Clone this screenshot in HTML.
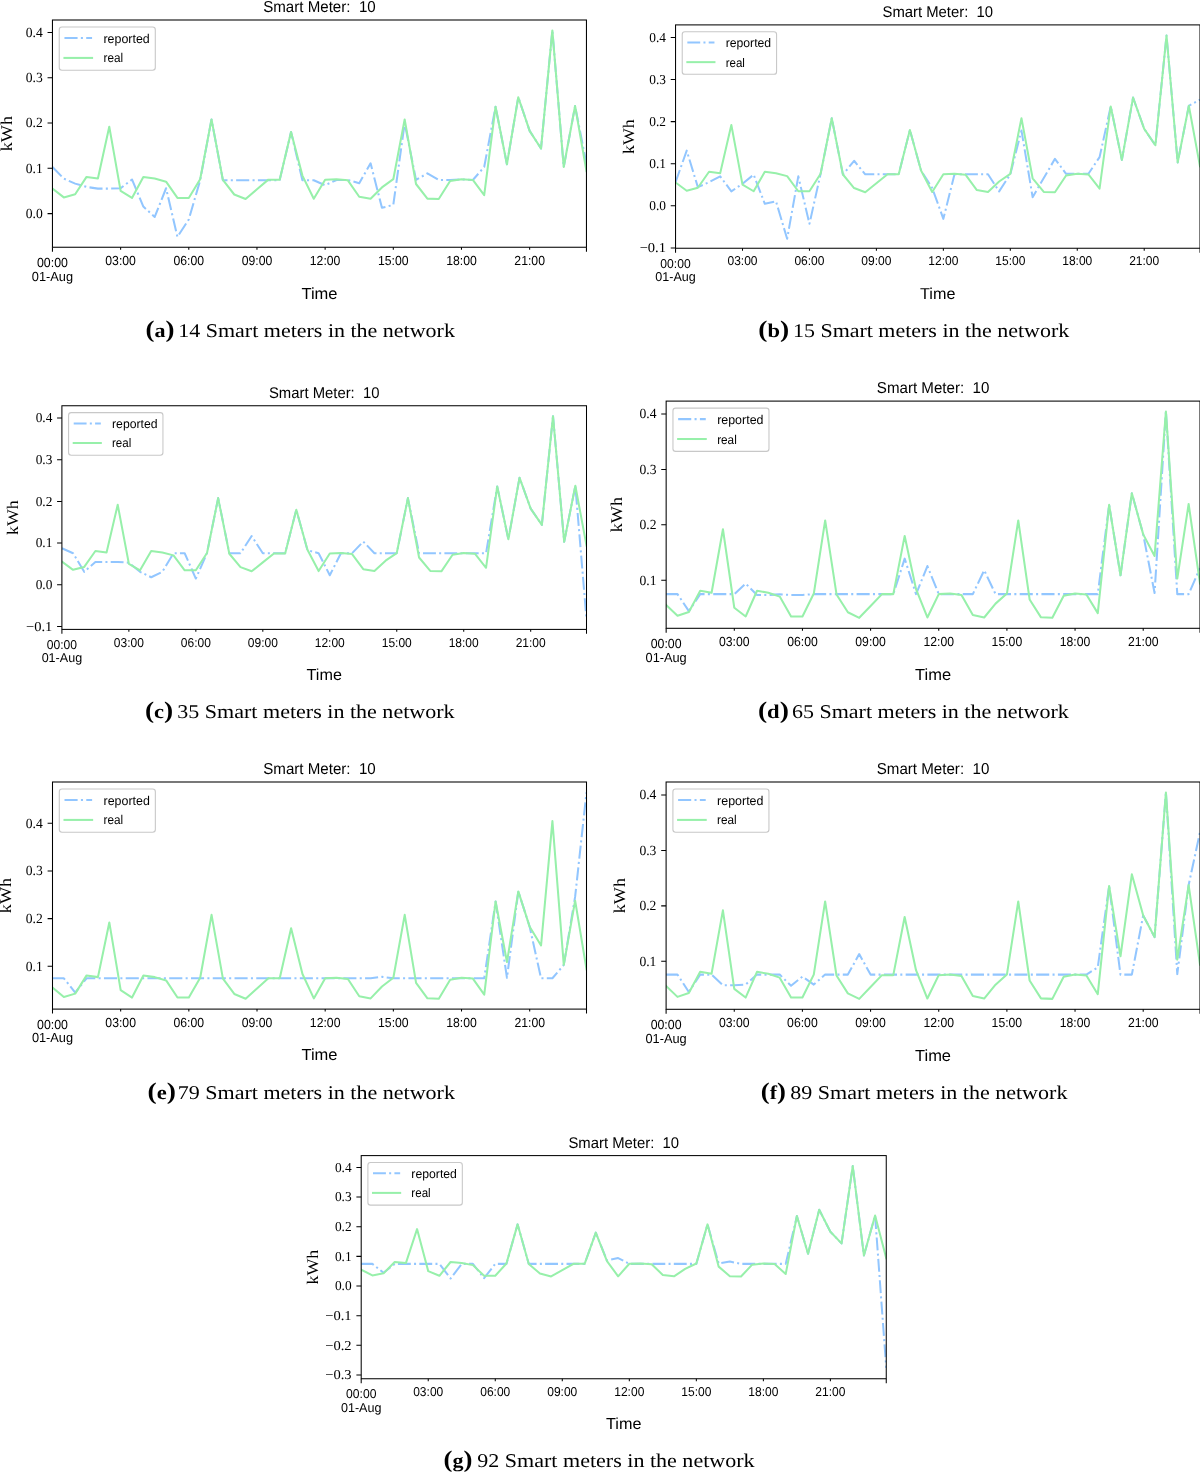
<!DOCTYPE html>
<html><head><meta charset="utf-8"><title>Smart meters figure</title>
<style>html,body{margin:0;padding:0;background:#fff;}body{width:1200px;height:1474px;overflow:hidden;}svg{display:block;will-change:transform;}text{font-kerning:normal;text-rendering:geometricPrecision;}</style>
</head><body>
<svg width="1200" height="1474" viewBox="0 0 1200 1474">
<clipPath id="clipa"><rect x="52.45" y="20" width="534" height="227.25"/></clipPath>
<g clip-path="url(#clipa)">
<polyline points="52.45,166.97 63.81,178.61 75.17,183.63 86.54,186.94 97.9,188.62 109.26,188.62 120.62,188.25 131.98,179.47 143.34,206.59 154.71,216.96 166.07,188.25 177.43,236.93 188.79,219.45 200.15,180.28 211.51,119.43 222.88,180.28 234.24,180.28 245.6,180.28 256.96,180.28 268.32,180.28 279.68,180.1 291.05,132.11 302.41,180.28 313.77,180.28 325.13,185.26 336.49,179.97 347.85,179.97 359.22,183.27 370.58,163.35 381.94,207.77 393.3,204.96 404.66,123.05 416.02,179.97 427.39,173.31 438.75,179.97 450.11,179.97 461.47,179.42 472.83,179.97 484.19,166.97 495.56,106.75 506.92,164.26 518.28,97.24 529.64,130.84 541,148.54 552.36,30.46 563.73,166.97 575.09,106.03 586.45,163.8" fill="none" stroke="#92c6ff" stroke-width="2.05" stroke-dasharray="13.11,3.3,2.05,3.3" stroke-linejoin="round"/>
<polyline points="52.45,188.52 63.81,197.4 75.17,194.23 86.54,176.93 97.9,178.56 109.26,126.67 120.62,190.83 131.98,197.94 143.34,176.93 154.71,178.56 166.07,181.69 177.43,197.94 188.79,197.94 200.15,179.2 211.51,119.43 222.88,179.92 234.24,194.5 245.6,199.03 256.96,189.34 268.32,179.65 279.68,179.65 291.05,132.11 302.41,175.58 313.77,198.76 325.13,179.65 336.49,179.2 347.85,180.33 359.22,196.72 370.58,198.76 381.94,187.44 393.3,179.2 404.66,119.43 416.02,184 427.39,198.62 438.75,199.03 450.11,181.01 461.47,179.2 472.83,179.92 484.19,195.18 495.56,106.75 506.92,164.26 518.28,97.24 529.64,130.84 541,148.54 552.36,30.46 563.73,166.97 575.09,106.03 586.45,171.05" fill="none" stroke="#97f0aa" stroke-width="2.05" stroke-linejoin="round" stroke-linecap="square"/>
</g>
<rect x="52.45" y="20" width="534" height="227.25" fill="none" stroke="#000" stroke-width="1.05"/>
<path d="M47.55 213.61H52.45M47.55 168.33H52.45M47.55 123.05H52.45M47.55 77.77H52.45M47.55 32.5H52.45M120.62 247.25V249.75M188.79 247.25V249.75M256.96 247.25V249.75M325.13 247.25V249.75M393.3 247.25V249.75M461.47 247.25V249.75M529.64 247.25V249.75M52.45 247.25V251.75M586.45 247.25V251.75" stroke="#000" stroke-width="1.05" fill="none"/>
<g font-family='"Liberation Serif", serif' font-size="13.91" fill="#000"><text x="42.74" y="218.01" text-anchor="end" textLength="17.01" lengthAdjust="spacingAndGlyphs">0.0</text><text x="42.74" y="172.73" text-anchor="end" textLength="17.01" lengthAdjust="spacingAndGlyphs">0.1</text><text x="42.74" y="127.46" text-anchor="end" textLength="17.01" lengthAdjust="spacingAndGlyphs">0.2</text><text x="42.74" y="82.18" text-anchor="end" textLength="17.01" lengthAdjust="spacingAndGlyphs">0.3</text><text x="42.74" y="36.9" text-anchor="end" textLength="17.01" lengthAdjust="spacingAndGlyphs">0.4</text></g>
<g font-family='"Liberation Sans", sans-serif' font-size="13.11" fill="#000" text-anchor="middle"><text x="120.62" y="264.66" textLength="30.62" lengthAdjust="spacingAndGlyphs">03:00</text><text x="188.79" y="264.66" textLength="30.62" lengthAdjust="spacingAndGlyphs">06:00</text><text x="256.96" y="264.66" textLength="30.62" lengthAdjust="spacingAndGlyphs">09:00</text><text x="325.13" y="264.66" textLength="30.62" lengthAdjust="spacingAndGlyphs">12:00</text><text x="393.3" y="264.66" textLength="30.62" lengthAdjust="spacingAndGlyphs">15:00</text><text x="461.47" y="264.66" textLength="30.62" lengthAdjust="spacingAndGlyphs">18:00</text><text x="529.64" y="264.66" textLength="30.62" lengthAdjust="spacingAndGlyphs">21:00</text><text x="52.45" y="267.01" textLength="30.92" lengthAdjust="spacingAndGlyphs">00:00</text><text x="52.45" y="280.57" textLength="41.22" lengthAdjust="spacingAndGlyphs">01-Aug</text></g>
<text x="319.45" y="12.1" font-family='"Liberation Sans", sans-serif' font-size="15.81" text-anchor="middle" textLength="112.56" lengthAdjust="spacingAndGlyphs" style="white-space:pre">Smart Meter:  10</text>
<text x="319.45" y="298.63" font-family='"Liberation Sans", sans-serif' font-size="16.11" text-anchor="middle" textLength="36.02" lengthAdjust="spacingAndGlyphs">Time</text>
<text transform="translate(11.5 133.62) rotate(-90)" font-family='"Liberation Serif", serif' font-size="16.51" text-anchor="middle" textLength="35.32" lengthAdjust="spacingAndGlyphs">kWh</text>
<rect x="59.25" y="27" width="96.05" height="43.32" rx="2.7" fill="#fff" fill-opacity="0.8" stroke="#c8c8c8" stroke-width="1.1"/>
<path d="M64.46 38.01H92.07" stroke="#92c6ff" stroke-width="2.05" stroke-dasharray="13.11,3.3,2.05,3.3"/>
<path d="M64.46 57.92H92.07" stroke="#97f0aa" stroke-width="2.05" stroke-linecap="square"/>
<g font-family='"Liberation Sans", sans-serif' font-size="12.71" fill="#000">
<text x="103.48" y="42.71" textLength="46.33" lengthAdjust="spacingAndGlyphs">reported</text>
<text x="103.48" y="62.42" textLength="19.61" lengthAdjust="spacingAndGlyphs">real</text>
</g>
<text x="145.5" y="336.7" font-family='"Liberation Serif", serif' font-size="19.5" font-weight="bold" textLength="29" lengthAdjust="spacingAndGlyphs"><tspan font-size="23.8">(</tspan>a<tspan font-size="23.8">)</tspan></text>
<text x="178.3" y="336.7" font-family='"Liberation Serif", serif' font-size="19.5" textLength="276.6" lengthAdjust="spacingAndGlyphs">14 Smart meters in the network</text>
<clipPath id="clipb"><rect x="675.55" y="24.9" width="524.45" height="223.35"/></clipPath>
<g clip-path="url(#clipb)">
<polyline points="675.55,182.15 686.71,150.66 697.87,187.16 709.03,182.15 720.18,176.34 731.34,191.33 742.5,183.79 753.66,174.66 764.82,203.83 775.98,201.31 787.14,238.82 798.29,176.34 809.45,223.83 820.61,173.81 831.77,118.24 842.93,174.66 854.09,160.76 865.24,174.32 876.4,174.32 887.56,174.32 898.72,174.32 909.88,130.03 921.04,170.45 932.2,187.92 943.35,218.86 954.51,174.32 965.67,174.32 976.83,174.32 987.99,174.32 999.15,191.33 1010.31,174.24 1021.46,130.45 1032.62,197.14 1043.78,178.02 1054.94,158.83 1066.1,173.81 1077.26,173.81 1088.41,173.81 1099.57,157.14 1110.73,106.45 1121.89,159.92 1133.05,97.61 1144.21,128.85 1155.37,145.31 1166.52,35.51 1177.68,162.45 1188.84,105.78 1200,99.71" fill="none" stroke="#92c6ff" stroke-width="2.01" stroke-dasharray="12.87,3.24,2.01,3.24" stroke-linejoin="round"/>
<polyline points="675.55,182.49 686.71,190.74 697.87,187.79 709.03,171.71 720.18,173.22 731.34,124.98 742.5,184.63 753.66,191.24 764.82,171.71 775.98,173.22 787.14,176.13 798.29,191.24 809.45,191.24 820.61,173.81 831.77,118.24 842.93,174.49 854.09,188.04 865.24,192.25 876.4,183.24 887.56,174.24 898.72,174.24 909.88,130.03 921.04,170.45 932.2,192 943.35,174.24 954.51,173.81 965.67,174.87 976.83,190.11 987.99,192 999.15,181.48 1010.31,173.81 1021.46,118.24 1032.62,178.28 1043.78,191.88 1054.94,192.25 1066.1,175.5 1077.26,173.81 1088.41,174.49 1099.57,188.68 1110.73,106.45 1121.89,159.92 1133.05,97.61 1144.21,128.85 1155.37,145.31 1166.52,35.51 1177.68,162.45 1188.84,105.78 1200,166.24" fill="none" stroke="#97f0aa" stroke-width="2.01" stroke-linejoin="round" stroke-linecap="square"/>
</g>
<rect x="675.55" y="24.9" width="524.45" height="223.35" fill="none" stroke="#000" stroke-width="1.03"/>
<path d="M670.73 247.91H675.55M670.73 205.81H675.55M670.73 163.71H675.55M670.73 121.61H675.55M670.73 79.51H675.55M670.73 37.4H675.55M742.5 248.25V250.71M809.45 248.25V250.71M876.4 248.25V250.71M943.35 248.25V250.71M1010.31 248.25V250.71M1077.26 248.25V250.71M1144.21 248.25V250.71M675.55 248.25V252.67M1200 248.25V252.67" stroke="#000" stroke-width="1.03" fill="none"/>
<g font-family='"Liberation Serif", serif' font-size="13.66" fill="#000"><text x="666.02" y="252.24" text-anchor="end" textLength="26.34" lengthAdjust="spacingAndGlyphs">−0.1</text><text x="666.02" y="210.14" text-anchor="end" textLength="16.71" lengthAdjust="spacingAndGlyphs">0.0</text><text x="666.02" y="168.03" text-anchor="end" textLength="16.71" lengthAdjust="spacingAndGlyphs">0.1</text><text x="666.02" y="125.93" text-anchor="end" textLength="16.71" lengthAdjust="spacingAndGlyphs">0.2</text><text x="666.02" y="83.83" text-anchor="end" textLength="16.71" lengthAdjust="spacingAndGlyphs">0.3</text><text x="666.02" y="41.73" text-anchor="end" textLength="16.71" lengthAdjust="spacingAndGlyphs">0.4</text></g>
<g font-family='"Liberation Sans", sans-serif' font-size="12.87" fill="#000" text-anchor="middle"><text x="742.5" y="265.35" textLength="30.07" lengthAdjust="spacingAndGlyphs">03:00</text><text x="809.45" y="265.35" textLength="30.07" lengthAdjust="spacingAndGlyphs">06:00</text><text x="876.4" y="265.35" textLength="30.07" lengthAdjust="spacingAndGlyphs">09:00</text><text x="943.35" y="265.35" textLength="30.07" lengthAdjust="spacingAndGlyphs">12:00</text><text x="1010.31" y="265.35" textLength="30.07" lengthAdjust="spacingAndGlyphs">15:00</text><text x="1077.26" y="265.35" textLength="30.07" lengthAdjust="spacingAndGlyphs">18:00</text><text x="1144.21" y="265.35" textLength="30.07" lengthAdjust="spacingAndGlyphs">21:00</text><text x="675.55" y="267.66" textLength="30.36" lengthAdjust="spacingAndGlyphs">00:00</text><text x="675.55" y="280.97" textLength="40.49" lengthAdjust="spacingAndGlyphs">01-Aug</text></g>
<text x="937.77" y="17.14" font-family='"Liberation Sans", sans-serif' font-size="15.53" text-anchor="middle" textLength="110.55" lengthAdjust="spacingAndGlyphs" style="white-space:pre">Smart Meter:  10</text>
<text x="937.77" y="298.71" font-family='"Liberation Sans", sans-serif' font-size="15.82" text-anchor="middle" textLength="35.38" lengthAdjust="spacingAndGlyphs">Time</text>
<text transform="translate(633.7 136.57) rotate(-90)" font-family='"Liberation Serif", serif' font-size="16.21" text-anchor="middle" textLength="34.69" lengthAdjust="spacingAndGlyphs">kWh</text>
<rect x="682.23" y="31.78" width="94.34" height="42.55" rx="2.65" fill="#fff" fill-opacity="0.8" stroke="#c8c8c8" stroke-width="1.08"/>
<path d="M687.34 42.59H714.46" stroke="#92c6ff" stroke-width="2.01" stroke-dasharray="12.87,3.24,2.01,3.24"/>
<path d="M687.34 62.14H714.46" stroke="#97f0aa" stroke-width="2.01" stroke-linecap="square"/>
<g font-family='"Liberation Sans", sans-serif' font-size="12.48" fill="#000">
<text x="725.67" y="47.21" textLength="45.5" lengthAdjust="spacingAndGlyphs">reported</text>
<text x="725.67" y="66.57" textLength="19.26" lengthAdjust="spacingAndGlyphs">real</text>
</g>
<text x="758.3" y="336.9" font-family='"Liberation Serif", serif' font-size="19.5" font-weight="bold" textLength="30.9" lengthAdjust="spacingAndGlyphs"><tspan font-size="23.8">(</tspan>b<tspan font-size="23.8">)</tspan></text>
<text x="793" y="336.9" font-family='"Liberation Serif", serif' font-size="19.5" textLength="276.2" lengthAdjust="spacingAndGlyphs">15 Smart meters in the network</text>
<clipPath id="clipc"><rect x="61.9" y="405.75" width="524.6" height="223.65"/></clipPath>
<g clip-path="url(#clipc)">
<polyline points="61.9,548.24 73.06,553.24 84.22,571.82 95.39,561.91 106.55,561.91 117.71,561.91 128.87,562.74 140.03,571.82 151.19,577.24 162.36,571.82 173.52,553.24 184.68,553.24 195.84,578.57 207,553.07 218.16,498.08 229.33,553.24 240.49,553.24 251.65,535.99 262.81,553.24 273.97,553.24 285.13,553.24 296.3,509.74 307.46,550.16 318.62,553.24 329.78,575.24 340.94,553.24 352.1,553.24 363.27,541.57 374.43,553.24 385.59,553.24 396.75,553.24 407.91,498.08 419.07,553.24 430.24,553.24 441.4,553.24 452.56,553.24 463.72,553.24 474.88,553.24 486.04,553.24 497.21,486.41 508.37,539.32 519.53,477.66 530.69,508.58 541.85,524.87 553.01,416.21 564.18,541.82 575.34,485.74 586.5,619.32" fill="none" stroke="#92c6ff" stroke-width="2.02" stroke-dasharray="12.88,3.24,2.02,3.24" stroke-linejoin="round"/>
<polyline points="61.9,561.66 73.06,569.82 84.22,566.9 95.39,550.99 106.55,552.49 117.71,504.74 128.87,563.78 140.03,570.32 151.19,550.99 162.36,552.49 173.52,555.36 184.68,570.32 195.84,570.32 207,553.07 218.16,498.08 229.33,553.74 240.49,567.15 251.65,571.32 262.81,562.4 273.97,553.49 285.13,553.49 296.3,509.74 307.46,549.74 318.62,571.07 329.78,553.49 340.94,553.07 352.1,554.11 363.27,569.2 374.43,571.07 385.59,560.66 396.75,553.07 407.91,498.08 419.07,557.49 430.24,570.95 441.4,571.32 452.56,554.74 463.72,553.07 474.88,553.74 486.04,567.78 497.21,486.41 508.37,539.32 519.53,477.66 530.69,508.58 541.85,524.87 553.01,416.21 564.18,541.82 575.34,485.74 586.5,545.57" fill="none" stroke="#97f0aa" stroke-width="2.02" stroke-linejoin="round" stroke-linecap="square"/>
</g>
<rect x="61.9" y="405.75" width="524.6" height="223.65" fill="none" stroke="#000" stroke-width="1.03"/>
<path d="M57.08 626.4H61.9M57.08 584.74H61.9M57.08 543.07H61.9M57.08 501.41H61.9M57.08 459.75H61.9M57.08 418.08H61.9M128.87 629.4V631.86M195.84 629.4V631.86M262.81 629.4V631.86M329.78 629.4V631.86M396.75 629.4V631.86M463.72 629.4V631.86M530.69 629.4V631.86M61.9 629.4V633.82M586.5 629.4V633.82" stroke="#000" stroke-width="1.03" fill="none"/>
<g font-family='"Liberation Serif", serif' font-size="13.66" fill="#000"><text x="52.37" y="630.73" text-anchor="end" textLength="26.34" lengthAdjust="spacingAndGlyphs">−0.1</text><text x="52.37" y="589.06" text-anchor="end" textLength="16.71" lengthAdjust="spacingAndGlyphs">0.0</text><text x="52.37" y="547.4" text-anchor="end" textLength="16.71" lengthAdjust="spacingAndGlyphs">0.1</text><text x="52.37" y="505.73" text-anchor="end" textLength="16.71" lengthAdjust="spacingAndGlyphs">0.2</text><text x="52.37" y="464.07" text-anchor="end" textLength="16.71" lengthAdjust="spacingAndGlyphs">0.3</text><text x="52.37" y="422.41" text-anchor="end" textLength="16.71" lengthAdjust="spacingAndGlyphs">0.4</text></g>
<g font-family='"Liberation Sans", sans-serif' font-size="12.88" fill="#000" text-anchor="middle"><text x="128.87" y="646.5" textLength="30.08" lengthAdjust="spacingAndGlyphs">03:00</text><text x="195.84" y="646.5" textLength="30.08" lengthAdjust="spacingAndGlyphs">06:00</text><text x="262.81" y="646.5" textLength="30.08" lengthAdjust="spacingAndGlyphs">09:00</text><text x="329.78" y="646.5" textLength="30.08" lengthAdjust="spacingAndGlyphs">12:00</text><text x="396.75" y="646.5" textLength="30.08" lengthAdjust="spacingAndGlyphs">15:00</text><text x="463.72" y="646.5" textLength="30.08" lengthAdjust="spacingAndGlyphs">18:00</text><text x="530.69" y="646.5" textLength="30.08" lengthAdjust="spacingAndGlyphs">21:00</text><text x="61.9" y="648.81" textLength="30.37" lengthAdjust="spacingAndGlyphs">00:00</text><text x="61.9" y="662.13" textLength="40.5" lengthAdjust="spacingAndGlyphs">01-Aug</text></g>
<text x="324.2" y="397.98" font-family='"Liberation Sans", sans-serif' font-size="15.53" text-anchor="middle" textLength="110.58" lengthAdjust="spacingAndGlyphs" style="white-space:pre">Smart Meter:  10</text>
<text x="324.2" y="679.87" font-family='"Liberation Sans", sans-serif' font-size="15.83" text-anchor="middle" textLength="35.39" lengthAdjust="spacingAndGlyphs">Time</text>
<text transform="translate(17.8 517.58) rotate(-90)" font-family='"Liberation Serif", serif' font-size="16.22" text-anchor="middle" textLength="34.7" lengthAdjust="spacingAndGlyphs">kWh</text>
<rect x="68.58" y="412.63" width="94.36" height="42.56" rx="2.65" fill="#fff" fill-opacity="0.8" stroke="#c8c8c8" stroke-width="1.08"/>
<path d="M73.7 423.44H100.82" stroke="#92c6ff" stroke-width="2.02" stroke-dasharray="12.88,3.24,2.02,3.24"/>
<path d="M73.7 443H100.82" stroke="#97f0aa" stroke-width="2.02" stroke-linecap="square"/>
<g font-family='"Liberation Sans", sans-serif' font-size="12.48" fill="#000">
<text x="112.03" y="428.06" textLength="45.51" lengthAdjust="spacingAndGlyphs">reported</text>
<text x="112.03" y="447.43" textLength="19.27" lengthAdjust="spacingAndGlyphs">real</text>
</g>
<text x="144.9" y="717.9" font-family='"Liberation Serif", serif' font-size="19.5" font-weight="bold" textLength="28.3" lengthAdjust="spacingAndGlyphs"><tspan font-size="23.8">(</tspan>c<tspan font-size="23.8">)</tspan></text>
<text x="177.3" y="717.9" font-family='"Liberation Serif", serif' font-size="19.5" textLength="277.3" lengthAdjust="spacingAndGlyphs">35 Smart meters in the network</text>
<clipPath id="clipd"><rect x="666.15" y="401.1" width="533.85" height="227.2"/></clipPath>
<g clip-path="url(#clipd)">
<polyline points="666.15,594.11 677.51,594.11 688.87,611.12 700.23,594.11 711.58,594.11 722.94,594.11 734.3,594.11 745.66,583.58 757.02,594.94 768.38,594.94 779.74,594.39 791.09,594.94 802.45,594.94 813.81,594.11 825.17,594.11 836.53,594.11 847.89,594.11 859.24,594.11 870.6,594.11 881.96,594.11 893.32,594.11 904.68,558.64 916.04,594.11 927.4,566.07 938.75,594.11 950.11,594.11 961.47,594.11 972.83,594.11 984.19,570.28 995.55,594.11 1006.91,594.11 1018.26,594.11 1029.62,594.11 1040.98,594.11 1052.34,594.11 1063.7,594.11 1075.06,594.11 1086.41,594.11 1097.77,594.11 1109.13,504.89 1120.49,575.27 1131.85,493.25 1143.21,534.37 1154.57,593 1165.92,411.52 1177.28,594.11 1188.64,594.11 1200,568.06" fill="none" stroke="#92c6ff" stroke-width="2.05" stroke-dasharray="13.1,3.3,2.05,3.3" stroke-linejoin="round"/>
<polyline points="666.15,604.97 677.51,615.83 688.87,611.95 700.23,590.78 711.58,592.78 722.94,529.27 734.3,607.8 745.66,616.5 757.02,590.78 768.38,592.78 779.74,596.6 791.09,616.5 802.45,616.5 813.81,593.56 825.17,520.41 836.53,594.44 847.89,612.29 859.24,617.83 870.6,605.97 881.96,594.11 893.32,594.11 904.68,535.92 916.04,589.12 927.4,617.49 938.75,594.11 950.11,593.56 961.47,594.94 972.83,615 984.19,617.49 995.55,603.64 1006.91,593.56 1018.26,520.41 1029.62,599.43 1040.98,617.33 1052.34,617.83 1063.7,595.77 1075.06,593.56 1086.41,594.44 1097.77,613.12 1109.13,504.89 1120.49,575.27 1131.85,493.25 1143.21,534.37 1154.57,556.04 1165.92,411.52 1177.28,578.59 1188.64,504 1200,583.58" fill="none" stroke="#97f0aa" stroke-width="2.05" stroke-linejoin="round" stroke-linecap="square"/>
</g>
<rect x="666.15" y="401.1" width="533.85" height="227.2" fill="none" stroke="#000" stroke-width="1.05"/>
<path d="M661.25 580.26H666.15M661.25 524.84H666.15M661.25 469.43H666.15M661.25 414.01H666.15M734.3 628.3V630.8M802.45 628.3V630.8M870.6 628.3V630.8M938.75 628.3V630.8M1006.91 628.3V630.8M1075.06 628.3V630.8M1143.21 628.3V630.8M666.15 628.3V632.8M1200 628.3V632.8" stroke="#000" stroke-width="1.05" fill="none"/>
<g font-family='"Liberation Serif", serif' font-size="13.9" fill="#000"><text x="656.45" y="584.66" text-anchor="end" textLength="17" lengthAdjust="spacingAndGlyphs">0.1</text><text x="656.45" y="529.24" text-anchor="end" textLength="17" lengthAdjust="spacingAndGlyphs">0.2</text><text x="656.45" y="473.83" text-anchor="end" textLength="17" lengthAdjust="spacingAndGlyphs">0.3</text><text x="656.45" y="418.41" text-anchor="end" textLength="17" lengthAdjust="spacingAndGlyphs">0.4</text></g>
<g font-family='"Liberation Sans", sans-serif' font-size="13.1" fill="#000" text-anchor="middle"><text x="734.3" y="645.7" textLength="30.61" lengthAdjust="spacingAndGlyphs">03:00</text><text x="802.45" y="645.7" textLength="30.61" lengthAdjust="spacingAndGlyphs">06:00</text><text x="870.6" y="645.7" textLength="30.61" lengthAdjust="spacingAndGlyphs">09:00</text><text x="938.75" y="645.7" textLength="30.61" lengthAdjust="spacingAndGlyphs">12:00</text><text x="1006.91" y="645.7" textLength="30.61" lengthAdjust="spacingAndGlyphs">15:00</text><text x="1075.06" y="645.7" textLength="30.61" lengthAdjust="spacingAndGlyphs">18:00</text><text x="1143.21" y="645.7" textLength="30.61" lengthAdjust="spacingAndGlyphs">21:00</text><text x="666.15" y="648.06" textLength="30.91" lengthAdjust="spacingAndGlyphs">00:00</text><text x="666.15" y="661.61" textLength="41.21" lengthAdjust="spacingAndGlyphs">01-Aug</text></g>
<text x="933.08" y="393.2" font-family='"Liberation Sans", sans-serif' font-size="15.8" text-anchor="middle" textLength="112.53" lengthAdjust="spacingAndGlyphs" style="white-space:pre">Smart Meter:  10</text>
<text x="933.08" y="679.66" font-family='"Liberation Sans", sans-serif' font-size="16.1" text-anchor="middle" textLength="36.01" lengthAdjust="spacingAndGlyphs">Time</text>
<text transform="translate(621.7 514.7) rotate(-90)" font-family='"Liberation Serif", serif' font-size="16.5" text-anchor="middle" textLength="35.31" lengthAdjust="spacingAndGlyphs">kWh</text>
<rect x="672.95" y="408.1" width="96.03" height="43.31" rx="2.7" fill="#fff" fill-opacity="0.8" stroke="#c8c8c8" stroke-width="1.1"/>
<path d="M678.15 419.11H705.76" stroke="#92c6ff" stroke-width="2.05" stroke-dasharray="13.1,3.3,2.05,3.3"/>
<path d="M678.15 439.01H705.76" stroke="#97f0aa" stroke-width="2.05" stroke-linecap="square"/>
<g font-family='"Liberation Sans", sans-serif' font-size="12.7" fill="#000">
<text x="717.16" y="423.81" textLength="46.31" lengthAdjust="spacingAndGlyphs">reported</text>
<text x="717.16" y="443.51" textLength="19.61" lengthAdjust="spacingAndGlyphs">real</text>
</g>
<text x="757.9" y="717.9" font-family='"Liberation Serif", serif' font-size="19.5" font-weight="bold" textLength="31" lengthAdjust="spacingAndGlyphs"><tspan font-size="23.8">(</tspan>d<tspan font-size="23.8">)</tspan></text>
<text x="792" y="717.9" font-family='"Liberation Serif", serif' font-size="19.5" textLength="276.8" lengthAdjust="spacingAndGlyphs">65 Smart meters in the network</text>
<clipPath id="clipe"><rect x="52.5" y="782" width="534" height="227.1"/></clipPath>
<g clip-path="url(#clipe)">
<polyline points="52.5,978.27 63.86,978.27 75.22,992.59 86.59,978.27 97.95,978.27 109.31,978.27 120.67,978.27 132.03,978.27 143.39,978.27 154.76,978.27 166.12,978.27 177.48,978.27 188.84,978.27 200.2,978.27 211.56,978.27 222.93,978.27 234.29,978.27 245.65,978.27 257.01,978.27 268.37,978.27 279.73,978.27 291.1,978.27 302.46,978.27 313.82,978.27 325.18,978.27 336.54,978.27 347.9,978.27 359.27,978.27 370.63,978.27 381.99,976.84 393.35,978.27 404.71,978.27 416.07,978.27 427.44,978.27 438.8,978.27 450.16,978.27 461.52,978.27 472.88,978.27 484.24,978.27 495.61,901.44 506.97,977.8 518.33,891.42 529.69,926.83 541.05,978.27 552.41,978.27 563.78,964.91 575.14,896.67 586.5,792.31" fill="none" stroke="#92c6ff" stroke-width="2.05" stroke-dasharray="13.11,3.3,2.05,3.3" stroke-linejoin="round"/>
<polyline points="52.5,987.63 63.86,996.98 75.22,993.64 86.59,975.41 97.95,977.13 109.31,922.44 120.67,990.06 132.03,997.55 143.39,975.41 154.76,977.13 166.12,980.42 177.48,997.55 188.84,997.55 200.2,977.8 211.56,914.81 222.93,978.56 234.29,993.93 245.65,998.7 257.01,988.48 268.37,978.27 279.73,978.27 291.1,928.17 302.46,973.98 313.82,998.41 325.18,978.27 336.54,977.8 347.9,978.99 359.27,996.26 370.63,998.41 381.99,986.48 393.35,977.8 404.71,914.81 416.07,982.85 427.44,998.27 438.8,998.7 450.16,979.7 461.52,977.8 472.88,978.56 484.24,994.64 495.61,901.44 506.97,962.05 518.33,891.42 529.69,926.83 541.05,945.49 552.41,821.04 563.78,964.91 575.14,900.68 586.5,969.21" fill="none" stroke="#97f0aa" stroke-width="2.05" stroke-linejoin="round" stroke-linecap="square"/>
</g>
<rect x="52.5" y="782" width="534" height="227.1" fill="none" stroke="#000" stroke-width="1.05"/>
<path d="M47.6 966.34H52.5M47.6 918.62H52.5M47.6 870.9H52.5M47.6 823.18H52.5M120.67 1009.1V1011.6M188.84 1009.1V1011.6M257.01 1009.1V1011.6M325.18 1009.1V1011.6M393.35 1009.1V1011.6M461.52 1009.1V1011.6M529.69 1009.1V1011.6M52.5 1009.1V1013.6M586.5 1009.1V1013.6" stroke="#000" stroke-width="1.05" fill="none"/>
<g font-family='"Liberation Serif", serif' font-size="13.91" fill="#000"><text x="42.79" y="970.75" text-anchor="end" textLength="17.01" lengthAdjust="spacingAndGlyphs">0.1</text><text x="42.79" y="923.03" text-anchor="end" textLength="17.01" lengthAdjust="spacingAndGlyphs">0.2</text><text x="42.79" y="875.31" text-anchor="end" textLength="17.01" lengthAdjust="spacingAndGlyphs">0.3</text><text x="42.79" y="827.58" text-anchor="end" textLength="17.01" lengthAdjust="spacingAndGlyphs">0.4</text></g>
<g font-family='"Liberation Sans", sans-serif' font-size="13.11" fill="#000" text-anchor="middle"><text x="120.67" y="1026.51" textLength="30.62" lengthAdjust="spacingAndGlyphs">03:00</text><text x="188.84" y="1026.51" textLength="30.62" lengthAdjust="spacingAndGlyphs">06:00</text><text x="257.01" y="1026.51" textLength="30.62" lengthAdjust="spacingAndGlyphs">09:00</text><text x="325.18" y="1026.51" textLength="30.62" lengthAdjust="spacingAndGlyphs">12:00</text><text x="393.35" y="1026.51" textLength="30.62" lengthAdjust="spacingAndGlyphs">15:00</text><text x="461.52" y="1026.51" textLength="30.62" lengthAdjust="spacingAndGlyphs">18:00</text><text x="529.69" y="1026.51" textLength="30.62" lengthAdjust="spacingAndGlyphs">21:00</text><text x="52.5" y="1028.86" textLength="30.92" lengthAdjust="spacingAndGlyphs">00:00</text><text x="52.5" y="1042.42" textLength="41.22" lengthAdjust="spacingAndGlyphs">01-Aug</text></g>
<text x="319.5" y="774.1" font-family='"Liberation Sans", sans-serif' font-size="15.81" text-anchor="middle" textLength="112.56" lengthAdjust="spacingAndGlyphs" style="white-space:pre">Smart Meter:  10</text>
<text x="319.5" y="1060.48" font-family='"Liberation Sans", sans-serif' font-size="16.11" text-anchor="middle" textLength="36.02" lengthAdjust="spacingAndGlyphs">Time</text>
<text transform="translate(11.3 895.55) rotate(-90)" font-family='"Liberation Serif", serif' font-size="16.51" text-anchor="middle" textLength="35.32" lengthAdjust="spacingAndGlyphs">kWh</text>
<rect x="59.3" y="789" width="96.05" height="43.32" rx="2.7" fill="#fff" fill-opacity="0.8" stroke="#c8c8c8" stroke-width="1.1"/>
<path d="M64.51 800.01H92.12" stroke="#92c6ff" stroke-width="2.05" stroke-dasharray="13.11,3.3,2.05,3.3"/>
<path d="M64.51 819.92H92.12" stroke="#97f0aa" stroke-width="2.05" stroke-linecap="square"/>
<g font-family='"Liberation Sans", sans-serif' font-size="12.71" fill="#000">
<text x="103.53" y="804.71" textLength="46.33" lengthAdjust="spacingAndGlyphs">reported</text>
<text x="103.53" y="824.42" textLength="19.61" lengthAdjust="spacingAndGlyphs">real</text>
</g>
<text x="147.5" y="1099" font-family='"Liberation Serif", serif' font-size="19.5" font-weight="bold" textLength="28.4" lengthAdjust="spacingAndGlyphs"><tspan font-size="23.8">(</tspan>e<tspan font-size="23.8">)</tspan></text>
<text x="177.7" y="1099" font-family='"Liberation Serif", serif' font-size="19.5" textLength="277.3" lengthAdjust="spacingAndGlyphs">79 Smart meters in the network</text>
<clipPath id="clipf"><rect x="666.1" y="782" width="533.9" height="227.3"/></clipPath>
<g clip-path="url(#clipf)">
<polyline points="666.1,974.6 677.46,974.6 688.82,991.95 700.18,974.6 711.54,974.6 722.9,985.25 734.26,985.25 745.62,984.58 756.98,974.6 768.34,974.6 779.7,974.6 791.06,985.74 802.41,976.6 813.77,984.58 825.13,974.6 836.49,974.6 847.85,974.6 859.21,954.1 870.57,974.6 881.93,974.6 893.29,974.6 904.65,974.6 916.01,974.6 927.37,974.6 938.73,974.6 950.09,974.6 961.45,974.6 972.81,974.6 984.17,974.6 995.53,974.6 1006.89,974.6 1018.25,974.6 1029.61,974.6 1040.97,974.6 1052.33,974.6 1063.69,974.6 1075.04,974.6 1086.4,974.6 1097.76,967.45 1109.12,885.92 1120.48,974.6 1131.84,974.6 1143.2,915.41 1154.56,937.08 1165.92,792.53 1177.28,974.1 1188.64,885.04 1200,832.16" fill="none" stroke="#92c6ff" stroke-width="2.05" stroke-dasharray="13.1,3.3,2.05,3.3" stroke-linejoin="round"/>
<polyline points="666.1,986.02 677.46,996.88 688.82,993 700.18,971.83 711.54,973.83 722.9,910.31 734.26,988.85 745.62,997.55 756.98,971.83 768.34,973.83 779.7,977.65 791.06,997.55 802.41,997.55 813.77,974.6 825.13,901.44 836.49,975.49 847.85,993.34 859.21,998.88 870.57,987.02 881.93,975.16 893.29,975.16 904.65,916.96 916.01,970.17 927.37,998.55 938.73,975.16 950.09,974.6 961.45,975.99 972.81,996.05 984.17,998.55 995.53,984.69 1006.89,974.6 1018.25,901.44 1029.61,980.48 1040.97,998.38 1052.33,998.88 1063.69,976.82 1075.04,974.6 1086.4,975.49 1097.76,994.17 1109.12,885.92 1120.48,956.31 1131.84,874.28 1143.2,915.41 1154.56,937.08 1165.92,792.53 1177.28,959.64 1188.64,885.04 1200,964.63" fill="none" stroke="#97f0aa" stroke-width="2.05" stroke-linejoin="round" stroke-linecap="square"/>
</g>
<rect x="666.1" y="782" width="533.9" height="227.3" fill="none" stroke="#000" stroke-width="1.05"/>
<path d="M661.2 961.3H666.1M661.2 905.88H666.1M661.2 850.45H666.1M661.2 795.02H666.1M734.26 1009.3V1011.8M802.41 1009.3V1011.8M870.57 1009.3V1011.8M938.73 1009.3V1011.8M1006.89 1009.3V1011.8M1075.04 1009.3V1011.8M1143.2 1009.3V1011.8M666.1 1009.3V1013.8M1200 1009.3V1013.8" stroke="#000" stroke-width="1.05" fill="none"/>
<g font-family='"Liberation Serif", serif' font-size="13.91" fill="#000"><text x="656.4" y="965.7" text-anchor="end" textLength="17.01" lengthAdjust="spacingAndGlyphs">0.1</text><text x="656.4" y="910.28" text-anchor="end" textLength="17.01" lengthAdjust="spacingAndGlyphs">0.2</text><text x="656.4" y="854.85" text-anchor="end" textLength="17.01" lengthAdjust="spacingAndGlyphs">0.3</text><text x="656.4" y="799.43" text-anchor="end" textLength="17.01" lengthAdjust="spacingAndGlyphs">0.4</text></g>
<g font-family='"Liberation Sans", sans-serif' font-size="13.1" fill="#000" text-anchor="middle"><text x="734.26" y="1026.71" textLength="30.61" lengthAdjust="spacingAndGlyphs">03:00</text><text x="802.41" y="1026.71" textLength="30.61" lengthAdjust="spacingAndGlyphs">06:00</text><text x="870.57" y="1026.71" textLength="30.61" lengthAdjust="spacingAndGlyphs">09:00</text><text x="938.73" y="1026.71" textLength="30.61" lengthAdjust="spacingAndGlyphs">12:00</text><text x="1006.89" y="1026.71" textLength="30.61" lengthAdjust="spacingAndGlyphs">15:00</text><text x="1075.04" y="1026.71" textLength="30.61" lengthAdjust="spacingAndGlyphs">18:00</text><text x="1143.2" y="1026.71" textLength="30.61" lengthAdjust="spacingAndGlyphs">21:00</text><text x="666.1" y="1029.06" textLength="30.91" lengthAdjust="spacingAndGlyphs">00:00</text><text x="666.1" y="1042.61" textLength="41.22" lengthAdjust="spacingAndGlyphs">01-Aug</text></g>
<text x="933.05" y="774.1" font-family='"Liberation Sans", sans-serif' font-size="15.81" text-anchor="middle" textLength="112.54" lengthAdjust="spacingAndGlyphs" style="white-space:pre">Smart Meter:  10</text>
<text x="933.05" y="1060.67" font-family='"Liberation Sans", sans-serif' font-size="16.11" text-anchor="middle" textLength="36.01" lengthAdjust="spacingAndGlyphs">Time</text>
<text transform="translate(624.7 895.65) rotate(-90)" font-family='"Liberation Serif", serif' font-size="16.51" text-anchor="middle" textLength="35.31" lengthAdjust="spacingAndGlyphs">kWh</text>
<rect x="672.9" y="789" width="96.04" height="43.32" rx="2.7" fill="#fff" fill-opacity="0.8" stroke="#c8c8c8" stroke-width="1.1"/>
<path d="M678.1 800.01H705.71" stroke="#92c6ff" stroke-width="2.05" stroke-dasharray="13.1,3.3,2.05,3.3"/>
<path d="M678.1 819.91H705.71" stroke="#97f0aa" stroke-width="2.05" stroke-linecap="square"/>
<g font-family='"Liberation Sans", sans-serif' font-size="12.7" fill="#000">
<text x="717.12" y="804.71" textLength="46.32" lengthAdjust="spacingAndGlyphs">reported</text>
<text x="717.12" y="824.42" textLength="19.61" lengthAdjust="spacingAndGlyphs">real</text>
</g>
<text x="760.8" y="1099" font-family='"Liberation Serif", serif' font-size="19.5" font-weight="bold" textLength="25.1" lengthAdjust="spacingAndGlyphs"><tspan font-size="23.8">(</tspan>f<tspan font-size="23.8">)</tspan></text>
<text x="790.3" y="1099" font-family='"Liberation Serif", serif' font-size="19.5" textLength="277.1" lengthAdjust="spacingAndGlyphs">89 Smart meters in the network</text>
<clipPath id="clipg"><rect x="361.2" y="1155.6" width="525.05" height="223.15"/></clipPath>
<g clip-path="url(#clipg)">
<polyline points="361.2,1263.88 372.37,1263.88 383.54,1272.69 394.71,1263.88 405.89,1263.88 417.06,1263.88 428.23,1263.88 439.4,1263.88 450.57,1278.53 461.74,1263.88 472.91,1263.88 484.08,1278.21 495.26,1263.88 506.43,1263.88 517.6,1224.35 528.77,1263.88 539.94,1263.88 551.11,1263.88 562.28,1263.88 573.45,1263.88 584.63,1263.88 595.8,1232.65 606.97,1260.53 618.14,1258.04 629.31,1263.88 640.48,1263.88 651.65,1263.88 662.82,1263.88 674,1263.88 685.17,1263.88 696.34,1263.88 707.51,1224.35 718.68,1263.56 729.85,1261.54 741.02,1263.88 752.19,1263.88 763.37,1263.88 774.54,1263.88 785.71,1263.88 796.88,1216.04 808.05,1253.71 819.22,1209.82 830.39,1231.82 841.56,1243.42 852.74,1166.07 863.91,1255.49 875.08,1215.57 886.25,1367.9" fill="none" stroke="#92c6ff" stroke-width="2.02" stroke-dasharray="12.89,3.25,2.02,3.25" stroke-linejoin="round"/>
<polyline points="361.2,1269.61 372.37,1275.42 383.54,1273.34 394.71,1262.01 405.89,1263.08 417.06,1229.09 428.23,1271.12 439.4,1275.78 450.57,1262.01 461.74,1263.08 472.91,1265.13 484.08,1275.78 495.26,1275.78 506.43,1263.5 517.6,1224.35 528.77,1263.97 539.94,1273.52 551.11,1276.49 562.28,1270.14 573.45,1263.79 584.63,1263.79 595.8,1232.65 606.97,1261.12 618.14,1276.31 629.31,1263.79 640.48,1263.5 651.65,1264.24 662.82,1274.98 674,1276.31 685.17,1268.9 696.34,1263.5 707.51,1224.35 718.68,1266.64 729.85,1276.22 741.02,1276.49 752.19,1264.68 763.37,1263.5 774.54,1263.97 785.71,1273.97 796.88,1216.04 808.05,1253.71 819.22,1209.82 830.39,1231.82 841.56,1243.42 852.74,1166.07 863.91,1255.49 875.08,1215.57 886.25,1258.16" fill="none" stroke="#97f0aa" stroke-width="2.02" stroke-linejoin="round" stroke-linecap="square"/>
</g>
<rect x="361.2" y="1155.6" width="525.05" height="223.15" fill="none" stroke="#000" stroke-width="1.03"/>
<path d="M356.38 1375.01H361.2M356.38 1345.35H361.2M356.38 1315.7H361.2M356.38 1286.04H361.2M356.38 1256.38H361.2M356.38 1226.72H361.2M356.38 1197.06H361.2M356.38 1167.4H361.2M428.23 1378.75V1381.21M495.26 1378.75V1381.21M562.28 1378.75V1381.21M629.31 1378.75V1381.21M696.34 1378.75V1381.21M763.37 1378.75V1381.21M830.39 1378.75V1381.21M361.2 1378.75V1383.18M886.25 1378.75V1383.18" stroke="#000" stroke-width="1.03" fill="none"/>
<g font-family='"Liberation Serif", serif' font-size="13.67" fill="#000"><text x="351.66" y="1379.34" text-anchor="end" textLength="26.37" lengthAdjust="spacingAndGlyphs">−0.3</text><text x="351.66" y="1349.68" text-anchor="end" textLength="26.37" lengthAdjust="spacingAndGlyphs">−0.2</text><text x="351.66" y="1320.02" text-anchor="end" textLength="26.37" lengthAdjust="spacingAndGlyphs">−0.1</text><text x="351.66" y="1290.37" text-anchor="end" textLength="16.72" lengthAdjust="spacingAndGlyphs">0.0</text><text x="351.66" y="1260.71" text-anchor="end" textLength="16.72" lengthAdjust="spacingAndGlyphs">0.1</text><text x="351.66" y="1231.05" text-anchor="end" textLength="16.72" lengthAdjust="spacingAndGlyphs">0.2</text><text x="351.66" y="1201.39" text-anchor="end" textLength="16.72" lengthAdjust="spacingAndGlyphs">0.3</text><text x="351.66" y="1171.73" text-anchor="end" textLength="16.72" lengthAdjust="spacingAndGlyphs">0.4</text></g>
<g font-family='"Liberation Sans", sans-serif' font-size="12.89" fill="#000" text-anchor="middle"><text x="428.23" y="1395.87" textLength="30.1" lengthAdjust="spacingAndGlyphs">03:00</text><text x="495.26" y="1395.87" textLength="30.1" lengthAdjust="spacingAndGlyphs">06:00</text><text x="562.28" y="1395.87" textLength="30.1" lengthAdjust="spacingAndGlyphs">09:00</text><text x="629.31" y="1395.87" textLength="30.1" lengthAdjust="spacingAndGlyphs">12:00</text><text x="696.34" y="1395.87" textLength="30.1" lengthAdjust="spacingAndGlyphs">15:00</text><text x="763.37" y="1395.87" textLength="30.1" lengthAdjust="spacingAndGlyphs">18:00</text><text x="830.39" y="1395.87" textLength="30.1" lengthAdjust="spacingAndGlyphs">21:00</text><text x="361.2" y="1398.18" textLength="30.4" lengthAdjust="spacingAndGlyphs">00:00</text><text x="361.2" y="1411.51" textLength="40.53" lengthAdjust="spacingAndGlyphs">01-Aug</text></g>
<text x="623.73" y="1147.83" font-family='"Liberation Sans", sans-serif' font-size="15.54" text-anchor="middle" textLength="110.68" lengthAdjust="spacingAndGlyphs" style="white-space:pre">Smart Meter:  10</text>
<text x="623.73" y="1429.27" font-family='"Liberation Sans", sans-serif' font-size="15.84" text-anchor="middle" textLength="35.42" lengthAdjust="spacingAndGlyphs">Time</text>
<text transform="translate(317.7 1267.17) rotate(-90)" font-family='"Liberation Serif", serif' font-size="16.23" text-anchor="middle" textLength="34.73" lengthAdjust="spacingAndGlyphs">kWh</text>
<rect x="367.89" y="1162.49" width="94.44" height="42.6" rx="2.66" fill="#fff" fill-opacity="0.8" stroke="#c8c8c8" stroke-width="1.08"/>
<path d="M373.01 1173.31H400.16" stroke="#92c6ff" stroke-width="2.02" stroke-dasharray="12.89,3.25,2.02,3.25"/>
<path d="M373.01 1192.89H400.16" stroke="#97f0aa" stroke-width="2.02" stroke-linecap="square"/>
<g font-family='"Liberation Sans", sans-serif' font-size="12.49" fill="#000">
<text x="411.37" y="1177.93" textLength="45.55" lengthAdjust="spacingAndGlyphs">reported</text>
<text x="411.37" y="1197.31" textLength="19.28" lengthAdjust="spacingAndGlyphs">real</text>
</g>
<text x="443.6" y="1467.3" font-family='"Liberation Serif", serif' font-size="19.5" font-weight="bold" textLength="28.9" lengthAdjust="spacingAndGlyphs"><tspan font-size="23.8">(</tspan>g<tspan font-size="23.8">)</tspan></text>
<text x="477.3" y="1467.3" font-family='"Liberation Serif", serif' font-size="19.5" textLength="277.3" lengthAdjust="spacingAndGlyphs">92 Smart meters in the network</text>
</svg>
</body></html>
